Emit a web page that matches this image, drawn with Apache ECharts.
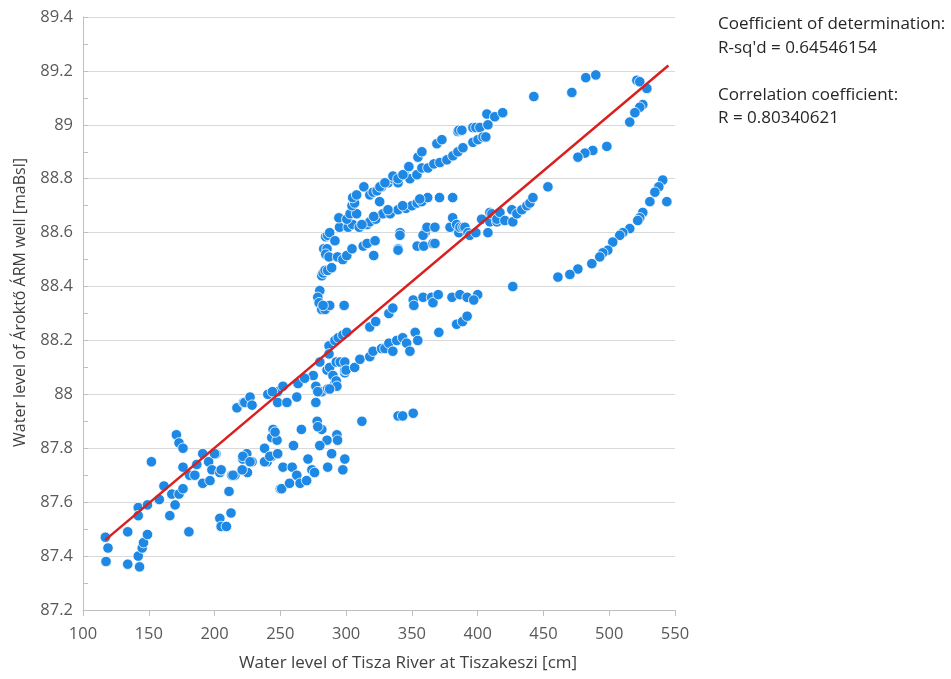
<!DOCTYPE html>
<html>
<head>
<meta charset="utf-8">
<script src="https://cdn.jsdelivr.net/npm/echarts@6/dist/echarts.min.js"></script>
<style>html,body{margin:0;padding:0;background:#fff}#c{width:951px;height:679px}</style>
</head>
<body>
<div id="c"></div>
<script>
// Water level of Tisza River at Tiszakeszi [cm]
const riverLevel = [
117,119,117.5,134,134,142,143,145,146,149,142,142,149,152,158,161.5,166,167.5,170,173,176,171,173,176,176,180.5,181,185,186.5,191,191,195.5,196.5,198,201,204,204,205,209,211,212.5,213,215.5,221.5,224.5,225,228.5,238,240,243.5,244.5,243.5,247.5,250,200,205,214,221,221.5,227,238,242,248,252,251,257,259,262.5,265,270,274,271,276,286,289,297.5,299,246,266,260,278,281.5,285.5,280,293,293.5,312,339.5,343,351,278.5,
217,222,223,227,228.5,240.5,248,252,248,255,262.5,263.5,275,277,277,281.5,286,291.5,299,268.5,278.5,285.5,287.5,290,292.5,293,287.5,299,244,
280,287,291.5,294,297.5,300.5,287,292.5,295.5,299,300,306.5,310.5,318,320.5,327,329.5,332.5,335.5,338.5,343,346,348.5,352.5,354.5,318,322.5,332.5,335.5,351,351.5,358.5,365,366,370,380.5,386.5,392,370.5,384,388.5,392,426.7,400,397,
280,278.5,279.5,281.5,284,287.5,298.5,282.5,
281.5,282.5,284,286,289,283,285.5,284.5,287,293.5,297.5,300.5,304.5,313,316,322,321,339.5,341,354,359,360,366,284.5,286,287.5,291.5,295,294.5,301.5,305,310,316,318,322.5,328,333.5,339.5,345.5,350,354,357.5,362,300.5,303,308,304.5,306.5,305,308,313.5,318,320.5,323.5,327,332,335.5,339.5,344.5,348.5,354,325.5,321,312,331.8,343,356,371,381,340.9,339.5,358.5,361.5,367.5,367.5,379,381,384,385.7,386.5,388.8,390.3,392.6,394,398.6,403,407.8,409.3,409.3,410.8,414.6,414.6,416.9,420.7,426,426.7,429.8,433.6,437.4,439.7,442,453.4,
325.7,329.5,335.6,339.4,343.2,347.7,353.8,354.6,357.6,357.6,362.2,366.7,369,371.3,372.8,376.6,381.2,385,385,385.7,388,388.8,396.4,396.4,398.6,400.2,401.7,404,406.2,407,407.8,413,419,442.7,471.6,482.2,489.8,521,523.2,528.6,525.5,523.2,519.5,515.6,498.2,487.5,481.5,476.2,
540.7,537.7,534.7,543.8,530.9,525.5,523.2,521.7,515.6,510.3,508,502.7,498.9,495.1,492.8,486.8,476.2,470.1,461
];
// Water level of Ároktő ÁRM well [maBsl]
const wellLevel = [
87.47,87.43,87.38,87.49,87.37,87.40,87.36,87.43,87.45,87.48,87.58,87.55,87.59,87.75,87.61,87.66,87.55,87.63,87.59,87.63,87.65,87.85,87.82,87.80,87.73,87.49,87.70,87.70,87.74,87.67,87.78,87.75,87.68,87.72,87.78,87.71,87.54,87.51,87.51,87.64,87.56,87.70,87.70,87.76,87.78,87.71,87.75,87.80,87.75,87.77,87.87,87.84,87.83,87.65,87.78,87.72,87.70,87.72,87.77,87.75,87.75,87.77,87.78,87.73,87.65,87.67,87.73,87.70,87.67,87.68,87.72,87.76,87.71,87.73,87.78,87.72,87.76,87.86,87.87,87.81,87.90,87.87,87.83,87.81,87.85,87.83,87.90,87.92,87.92,87.93,87.88,
87.95,87.97,87.97,87.99,87.96,88.00,88.01,88.03,87.97,87.97,87.99,88.04,88.07,88.03,87.97,88.01,88.02,88.04,88.08,88.06,88.01,88.09,88.10,88.07,88.05,88.03,88.02,88.09,88.01,
88.12,88.18,88.20,88.21,88.22,88.23,88.15,88.12,88.12,88.12,88.09,88.10,88.13,88.14,88.16,88.17,88.17,88.19,88.16,88.20,88.21,88.19,88.16,88.23,88.20,88.25,88.27,88.30,88.32,88.35,88.33,88.36,88.36,88.34,88.37,88.36,88.37,88.36,88.23,88.26,88.27,88.29,88.40,88.37,88.35,
88.385,88.36,88.34,88.315,88.315,88.33,88.33,88.33,
88.44,88.45,88.46,88.46,88.47,88.54,88.54,88.52,88.51,88.51,88.50,88.515,88.54,88.55,88.56,88.57,88.515,88.54,88.60,88.55,88.55,88.60,88.56,88.585,88.59,88.60,88.57,88.62,88.655,88.62,88.63,88.62,88.63,88.64,88.65,88.67,88.67,88.685,88.69,88.70,88.71,88.715,88.73,88.65,88.67,88.67,88.70,88.71,88.73,88.74,88.77,88.74,88.75,88.755,88.77,88.785,88.80,88.785,88.815,88.80,88.815,88.715,88.66,88.63,88.685,88.70,88.725,88.73,88.73,88.59,88.535,88.59,88.62,88.62,88.56,88.62,88.655,88.63,88.60,88.62,88.62,88.62,88.60,88.59,88.60,88.65,88.60,88.64,88.675,88.67,88.64,88.65,88.675,88.645,88.685,88.64,88.67,88.685,88.70,88.71,88.73,88.77,
88.77,88.785,88.81,88.80,88.815,88.845,88.815,88.88,88.84,88.90,88.84,88.855,88.93,88.86,88.945,88.87,88.885,88.90,88.975,88.98,88.98,88.915,88.99,88.935,88.99,88.945,88.99,88.955,88.955,89.04,89.00,89.03,89.045,89.105,89.12,89.175,89.185,89.165,89.16,89.135,89.075,89.065,89.045,89.01,88.92,88.905,88.895,88.88,
88.795,88.77,88.75,88.715,88.715,88.675,88.655,88.645,88.615,88.60,88.59,88.565,88.535,88.525,88.51,88.485,88.465,88.445,88.435
];
// Linear trend line end points
const trendX = [117, 545];
const trendY = [87.46, 89.22];
const statLines = ["Coefficient of determination:", "R-sq'd = 0.64546154", "", "Correlation coefficient:", "R = 0.80340621"];

const pts = riverLevel.map((x, i) => [x, wellLevel[i]]);
const trend = trendX.map((x, i) => [x, trendY[i]]);

const chart = echarts.init(document.getElementById('c'), null, {renderer: 'canvas'});
const font = '"Open Sans", "Noto Sans", sans-serif';
chart.setOption({
  animation: false,
  backgroundColor: '#ffffff',
  grid: {left: 83, top: 17, width: 592, height: 593, containLabel: false},
  xAxis: {
    type: 'value', min: 100, max: 550, interval: 50,
    name: 'Water level of Tisza River at Tiszakeszi [cm]',
    nameLocation: 'middle', nameGap: 45,
    nameTextStyle: {color: '#404040', fontSize: 17, fontFamily: font, padding: [0, 0, 0, 58]},
    axisLine: {show: true, onZero: false, lineStyle: {color: '#bfbfbf', width: 1}},
    axisTick: {show: true, length: 6, lineStyle: {color: '#bfbfbf'}},
    axisLabel: {color: '#595959', fontSize: 16.5, fontFamily: font, margin: 16},
    splitLine: {show: false}
  },
  yAxis: {
    type: 'value', min: 87.2, max: 89.4, interval: 0.2,
    name: 'Water level of Ároktő ÁRM well [maBsl]',
    nameLocation: 'middle', nameGap: 55,
    nameTextStyle: {color: '#404040', fontSize: 16, fontFamily: font, padding: [0, 0, 0, 22]},
    axisLine: {show: true, onZero: false, lineStyle: {color: '#bfbfbf', width: 1}},
    axisTick: {show: true, inside: true, length: 5, lineStyle: {color: '#bfbfbf'}},
    minorTick: {show: true, splitNumber: 2, length: 5, lineStyle: {color: '#bfbfbf'}},
    axisLabel: {color: '#595959', fontSize: 16.5, fontFamily: font, margin: 10,
      formatter: v => String(+v.toFixed(1))},
    splitLine: {show: true, lineStyle: {color: '#d9d9d9', width: 1}}
  },
  series: [
    {
      type: 'scatter', data: pts, symbol: 'circle', symbolSize: 10.5,
      itemStyle: {color: '#1e88e5', borderColor: '#ffffff', borderWidth: 0.8, opacity: 1},
      z: 2
    },
    {
      type: 'line', data: trend, symbol: 'none',
      lineStyle: {color: '#d9201f', width: 2.5},
      z: 3
    }
  ],
  graphic: statLines.map((t, i) => ({
    type: 'text', left: 718, top: 16 + i * 23.5,
    style: {text: t, fill: '#262626', font: '17px ' + font}
  }))
});
</script>
</body>
</html>
